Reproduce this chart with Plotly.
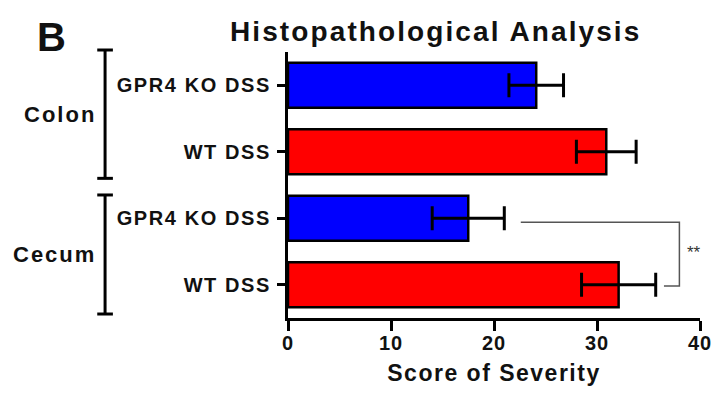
import plotly.graph_objects as go

# ---- data ----
tissues = ["Colon", "Colon", "Cecum", "Cecum"]
groups = ["GPR4 KO DSS", "WT DSS", "GPR4 KO DSS", "WT DSS"]
scores = [24.1, 30.9, 17.5, 32.1]
sem = [2.65, 2.9, 3.5, 3.6]
bar_colors = ["#0000FF", "#FF0000", "#0000FF", "#FF0000"]
x_ticks = [0, 10, 20, 30, 40]

FONT = "Liberation Sans, Arial, sans-serif"


def spaced(t, px):
    return f'<span style="letter-spacing:{px}px">{t}</span>'


pos = list(range(len(groups)))
Y_TOP, Y_BOT = -0.5, 3.5


def ypaper(v):
    return (Y_BOT - v) / (Y_BOT - Y_TOP)


fig = go.Figure()
fig.add_trace(go.Bar(
    x=scores, y=pos, orientation="h",
    width=0.68,
    marker=dict(color=bar_colors, line=dict(color="black", width=2.5)),
    error_x=dict(type="data", array=sem, visible=True, color="black",
                 thickness=3, width=12),
    showlegend=False, hoverinfo="skip",
))

fig.update_layout(
    width=711, height=394,
    margin=dict(l=288, r=11, t=52, b=76),
    paper_bgcolor="white", plot_bgcolor="white",
    font=dict(family=FONT, color="black"),
)

fig.update_xaxes(
    range=[0, 40], tickvals=x_ticks,
    ticktext=[spaced(str(v), 1) for v in x_ticks],
    ticklabeloverflow="allow", automargin=False,
    showline=True, linewidth=3, linecolor="black",
    ticks="outside", ticklen=10, tickwidth=3, tickcolor="black",
    showgrid=False, zeroline=False,
    tickfont=dict(family=FONT, size=20, weight="bold", color="#111"),
    ticklabelstandoff=-5,
    title=dict(text=spaced("Score of Severity", 1.5),
               font=dict(family=FONT, size=23, weight="bold", color="#111"),
               standoff=12),
)
fig.update_yaxes(
    range=[Y_BOT, Y_TOP], tickvals=pos,
    ticktext=[spaced(g, 1.6) for g in groups],
    automargin=False,
    showline=True, linewidth=3, linecolor="black",
    ticks="outside", ticklen=8, tickwidth=3, tickcolor="black",
    showgrid=False, zeroline=False,
    tickfont=dict(family=FONT, size=20, weight="bold", color="#111"),
    ticklabelstandoff=2,
)

# title and panel letter
fig.add_annotation(x=0.357, y=1.0, xref="paper", yref="paper",
                   yanchor="bottom", xanchor="center", yshift=3,
                   text=spaced("Histopathological Analysis", 2.1),
                   showarrow=False,
                   font=dict(family=FONT, size=28, weight="bold", color="#111"))
fig.add_annotation(x=-0.574, y=1.055, xref="paper", yref="paper",
                   xanchor="center", yanchor="middle",
                   text="B", showarrow=False,
                   font=dict(family=FONT, size=40, weight="bold", color="#111"))

# tissue brackets
bx, bcap = -0.444, 0.019
tissue_spans = {"Colon": (-0.53, 1.4), "Cecum": (1.65, 3.44)}
for name, (y0, y1) in tissue_spans.items():
    p0, p1 = ypaper(y0), ypaper(y1)
    fig.add_shape(type="line", xref="paper", yref="paper", x0=bx, x1=bx,
                  y0=p0, y1=p1, line=dict(color="black", width=3))
    for pp in (p0, p1):
        fig.add_shape(type="line", xref="paper", yref="paper",
                      x0=bx - bcap, x1=bx + bcap, y0=pp, y1=pp,
                      line=dict(color="black", width=3))
    fig.add_annotation(x=bx - 0.018, y=(p0 + p1) / 2, xref="paper", yref="paper",
                       xanchor="right", yanchor="middle",
                       text=spaced(name, 2), showarrow=False,
                       font=dict(family=FONT, size=22, weight="bold", color="#111"))

# significance bracket between cecum groups
fig.add_shape(type="path", xref="x", yref="y",
              path="M 22.6 2.06 L 38 2.06 L 38 3.02 L 36.5 3.02",
              line=dict(color="#555555", width=1.5))
fig.add_annotation(x=38.5, y=2.52, xref="x", yref="y",
                   xanchor="left", yanchor="middle", text="**",
                   showarrow=False,
                   font=dict(family=FONT, size=17, color="#333"))

fig.write_html("out.html")
